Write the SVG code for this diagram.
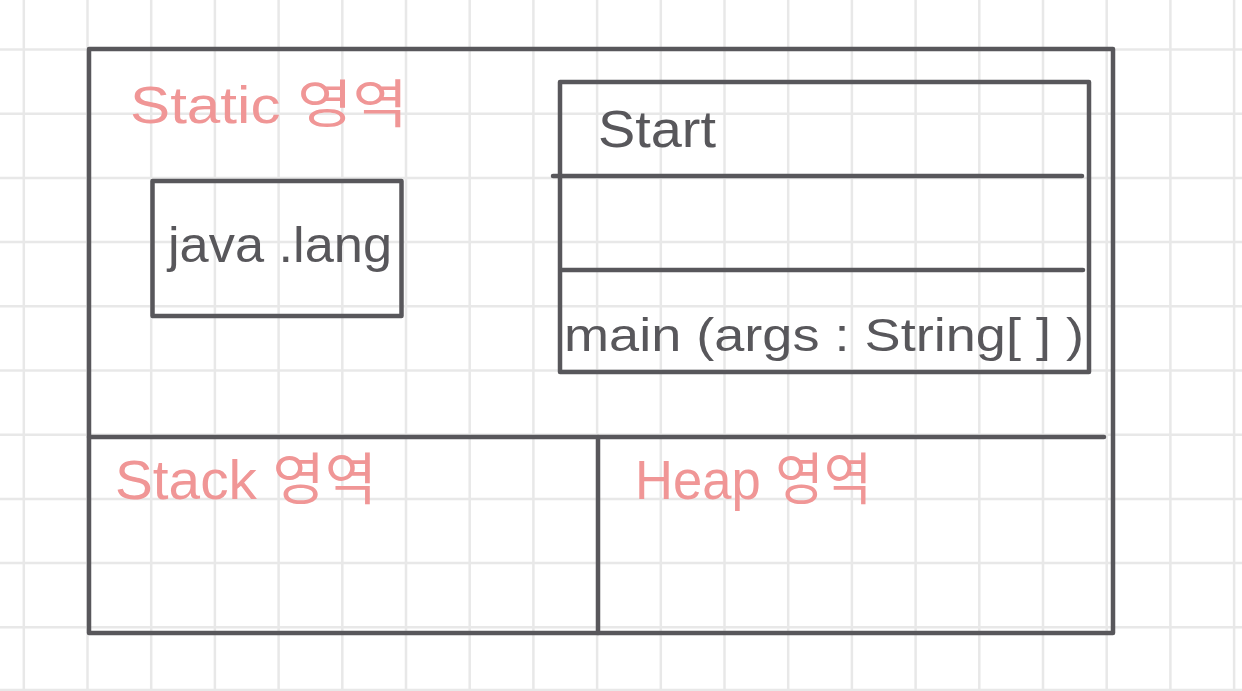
<svg xmlns="http://www.w3.org/2000/svg" width="1242" height="691" viewBox="0 0 1242 691">
<style>
.grid line{stroke:#e8e8e8;stroke-width:2.5}
.box{fill:none;stroke:#58575b;stroke-width:4.5;stroke-linejoin:round;stroke-linecap:round}
.dark{fill:#58575b;font-family:"Liberation Sans","Noto Sans CJK KR",sans-serif}
.pink{fill:#f09696;font-family:"Liberation Sans","Noto Sans CJK KR",sans-serif}
</style>
<rect width="1242" height="691" fill="#ffffff"/>
<g class="grid" id="grid">
<line x1="23.8" y1="0" x2="23.8" y2="691"/><line x1="87.5" y1="0" x2="87.5" y2="691"/><line x1="151.2" y1="0" x2="151.2" y2="691"/><line x1="214.9" y1="0" x2="214.9" y2="691"/><line x1="278.6" y1="0" x2="278.6" y2="691"/><line x1="342.3" y1="0" x2="342.3" y2="691"/><line x1="406" y1="0" x2="406" y2="691"/><line x1="469.7" y1="0" x2="469.7" y2="691"/><line x1="533.4" y1="0" x2="533.4" y2="691"/><line x1="597.1" y1="0" x2="597.1" y2="691"/><line x1="660.8" y1="0" x2="660.8" y2="691"/><line x1="724.5" y1="0" x2="724.5" y2="691"/><line x1="788.2" y1="0" x2="788.2" y2="691"/><line x1="851.9" y1="0" x2="851.9" y2="691"/><line x1="915.6" y1="0" x2="915.6" y2="691"/><line x1="979.3" y1="0" x2="979.3" y2="691"/><line x1="1043" y1="0" x2="1043" y2="691"/><line x1="1106.7" y1="0" x2="1106.7" y2="691"/><line x1="1170.4" y1="0" x2="1170.4" y2="691"/><line x1="1234.1" y1="0" x2="1234.1" y2="691"/>
<line x1="0" y1="49.5" x2="1242" y2="49.5"/><line x1="0" y1="113.7" x2="1242" y2="113.7"/><line x1="0" y1="177.9" x2="1242" y2="177.9"/><line x1="0" y1="242.1" x2="1242" y2="242.1"/><line x1="0" y1="306.3" x2="1242" y2="306.3"/><line x1="0" y1="370.5" x2="1242" y2="370.5"/><line x1="0" y1="434.7" x2="1242" y2="434.7"/><line x1="0" y1="498.9" x2="1242" y2="498.9"/><line x1="0" y1="563.1" x2="1242" y2="563.1"/><line x1="0" y1="627.3" x2="1242" y2="627.3"/><line x1="0" y1="690" x2="1242" y2="690"/>
</g>
<g id="memory">
<rect class="box" x="89" y="49" width="1024" height="584"/>
<line class="box" x1="89" y1="437" x2="1104" y2="437"/>
<line class="box" x1="598" y1="437" x2="598" y2="633"/>
</g>
<g id="static-area">
<text class="pink" x="130" y="123" font-size="52" textLength="278" lengthAdjust="spacingAndGlyphs">Static 영역</text>
</g>
<g id="java-lang">
<rect class="box" x="152.5" y="181" width="249" height="135"/>
<text class="dark" x="168" y="262" font-size="50" textLength="224" lengthAdjust="spacingAndGlyphs">java .lang</text>
</g>
<g id="start-class">
<rect class="box" x="560" y="82" width="529" height="290"/>
<line class="box" x1="553" y1="176" x2="1082" y2="176"/>
<line class="box" x1="562" y1="270" x2="1083" y2="270"/>
<text class="dark" x="598" y="147" font-size="52" textLength="118" lengthAdjust="spacingAndGlyphs">Start</text>
<text class="dark" x="564" y="351" font-size="46" textLength="520" lengthAdjust="spacingAndGlyphs">main (args : String[ ] )</text>
</g>
<g id="stack-area">
<text class="pink" x="115" y="499" font-size="56" textLength="262" lengthAdjust="spacingAndGlyphs">Stack 영역</text>
</g>
<g id="heap-area">
<text class="pink" x="635" y="499" font-size="56" textLength="237" lengthAdjust="spacingAndGlyphs">Heap 영역</text>
</g>
<g id="connectors"></g>
</svg>
